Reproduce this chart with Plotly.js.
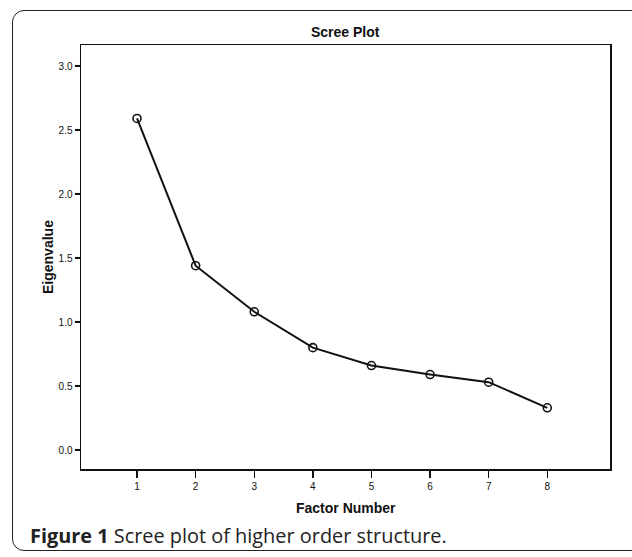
<!DOCTYPE html>
<html>
<head>
<meta charset="utf-8">
<script src="https://cdn.plot.ly/plotly-3.0.1.min.js"></script>
<style>
  html, body { margin: 0; padding: 0; background: #fff; }
  #wrap { position: relative; width: 632px; height: 557px; overflow: hidden; }
  #frame { position: absolute; left: 12px; top: 10px; width: 640px; height: 541px;
           border: 1.5px solid #222; border-radius: 12px; box-sizing: border-box; }
  #chart { position: absolute; left: 0; top: 0; width: 632px; height: 557px; }
</style>
</head>
<body>
<div id="wrap">
  <div id="frame"></div>
  <div id="chart"></div>
</div>
<script>
const factorNumber = [1, 2, 3, 4, 5, 6, 7, 8];
const eigenvalue = [2.59, 1.44, 1.08, 0.80, 0.66, 0.59, 0.53, 0.33];
const yTickVals = [0.0, 0.5, 1.0, 1.5, 2.0, 2.5, 3.0];
const yTickText = ["0.0", "0.5", "1.0", "1.5", "2.0", "2.5", "3.0"];
const chartTitle = "Scree Plot";
const xTitle = "Factor Number";
const yTitle = "Eigenvalue";
const caption = "<b>Figure 1</b> Scree plot of higher order structure.";

const narrow = "'Liberation Sans', Arial, sans-serif";

const trace = {
  x: factorNumber,
  y: eigenvalue,
  type: 'scatter',
  mode: 'lines+markers',
  line: { color: '#111', width: 2 },
  marker: { symbol: 'circle-open', size: 8, color: '#111', line: { width: 1.6, color: '#111' } },
  hoverinfo: 'skip'
};

const layout = {
  width: 632, height: 557,
  margin: { l: 81, r: 22, t: 45, b: 88 },
  paper_bgcolor: 'rgba(0,0,0,0)',
  plot_bgcolor: '#fff',
  showlegend: false,
  xaxis: {
    range: [0.044, 9.07],
    tickvals: factorNumber,
    ticktext: factorNumber.map(String),
    ticks: 'outside', ticklen: 7, tickwidth: 1.5, tickcolor: '#111',
    showgrid: false, zeroline: false,
    showline: true, mirror: true, linecolor: '#111', linewidth: 1.5,
    tickfont: { family: narrow, size: 10, color: '#111' },
    title: { text: '' }
  },
  yaxis: {
    range: [-0.148, 3.164],
    tickvals: yTickVals,
    ticktext: yTickText,
    ticks: 'outside', ticklen: 5, tickwidth: 1.5, tickcolor: '#111',
    showgrid: false, zeroline: false,
    showline: true, mirror: true, linecolor: '#111', linewidth: 1.5,
    tickfont: { family: narrow, size: 10, color: '#111' },
    title: { text: '' }
  },
  annotations: [
    { text: '<b>' + chartTitle + '</b>', xref: 'paper', yref: 'paper', x: 0.5, y: 1, yshift: 3,
      xanchor: 'center', yanchor: 'bottom', showarrow: false,
      font: { family: narrow, size: 14, color: '#111' } },
    { text: '<b>' + xTitle + '</b>', xref: 'paper', yref: 'paper', x: 0.5, y: 0, yshift: -29,
      xanchor: 'center', yanchor: 'top', showarrow: false,
      font: { family: narrow, size: 14, color: '#111' } },
    { text: '<b>' + yTitle + '</b>', xref: 'paper', yref: 'paper', x: 0, xshift: -33, y: 0.5,
      xanchor: 'center', yanchor: 'middle', textangle: -90, showarrow: false,
      font: { family: narrow, size: 14, color: '#111' } },
    { text: caption, xref: 'paper', yref: 'paper', x: 0, xshift: -53, y: 0, yshift: -51,
      xanchor: 'left', yanchor: 'top', showarrow: false, align: 'left',
      font: { family: "'Open Sans', 'Noto Sans', sans-serif", size: 19.9, color: '#222' } }
  ]
};

Plotly.newPlot('chart', [trace], layout, { displayModeBar: false, staticPlot: true });
</script>
</body>
</html>
